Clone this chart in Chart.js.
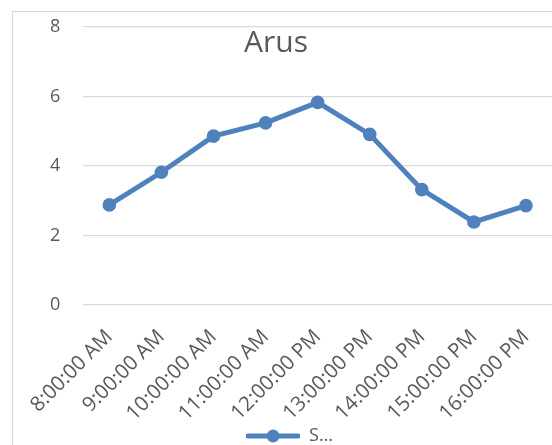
<!DOCTYPE html>
<html>
<head>
<meta charset="utf-8">
<script src="https://cdn.jsdelivr.net/npm/chart.js@4/dist/chart.umd.min.js"></script>
<style>
  html, body { margin: 0; padding: 0; background: #fff; overflow: hidden; }
  #frame { position: absolute; left: 12px; top: 11px; width: 600px; height: 500px; border: 1px solid #d9d9d9; }
  #wrap { position: absolute; left: 0; top: 0; width: 552px; height: 445px; }
  canvas { display: block; }
</style>
</head>
<body>
<div id="frame"></div>
<div id="wrap"><canvas id="line_chart" width="552" height="445"></canvas></div>
<script>
const chartTitle = "Arus";
const seriesName = "S…";
const hours = [
  "8:00:00 AM", "9:00:00 AM", "10:00:00 AM", "11:00:00 AM", "12:00:00 PM",
  "13:00:00 PM", "14:00:00 PM", "15:00:00 PM", "16:00:00 PM"
];
const arus = [2.88, 3.82, 4.86, 5.24, 5.83, 4.91, 3.32, 2.39, 2.86];
const yTicks = [0, 2, 4, 6, 8];

const blue = "#4f81bd";
const grey = "#595959";
const font = "'Open Sans', sans-serif";

// marker used in the legend: a short line with a dot in the middle
const legendMark = document.createElement("canvas");
legendMark.width = 54;
legendMark.height = 14;
const lm = legendMark.getContext("2d");
lm.strokeStyle = blue;
lm.lineWidth = 5;
lm.lineCap = "round";
lm.beginPath();
lm.moveTo(2, 7);
lm.lineTo(52, 7);
lm.stroke();
lm.fillStyle = blue;
lm.beginPath();
lm.arc(27, 7, 6.5, 0, Math.PI * 2);
lm.fill();

// title sits inside the plot area, like the spreadsheet chart
const titleInPlot = {
  id: "titleInPlot",
  afterDraw(chart) {
    const ctx = chart.ctx;
    ctx.save();
    ctx.fillStyle = grey;
    ctx.font = "30px " + font;
    ctx.textAlign = "center";
    ctx.textBaseline = "middle";
    ctx.fillText(chartTitle, chart.width / 2, chart.chartArea.top + 16);
    ctx.restore();
  }
};

const ctx = document.getElementById("line_chart").getContext("2d");
let chart = new Chart(ctx, {
  type: "line",
  data: {
    labels: hours,
    datasets: [
      {
        label: seriesName,
        data: arus,
        borderColor: blue,
        backgroundColor: blue,
        borderWidth: 5,
        pointRadius: 6.8,
        pointHoverRadius: 6.8,
        pointBorderWidth: 0,
        tension: 0,
      },
    ],
  },
  options: {
    responsive: false,
    animation: false,
    layout: {
      autoPadding: false,
      padding: { left: 27, right: 0, top: 27, bottom: -10 },
    },
    scales: {
      x: {
        offset: true,
        grid: { display: false },
        border: { display: false },
        afterFit: (scale) => {
          scale.paddingLeft = 0;
          scale.paddingRight = 0;
          scale.height = 118;
        },
        ticks: {
          color: grey,
          font: { family: font, size: 20.5 },
          maxRotation: 45,
          minRotation: 45,
          autoSkip: false,
          padding: 12,
        },
      },
      y: {
        min: 0,
        max: 8,
        afterBuildTicks: (axis) => {
          axis.ticks = yTicks.map((v) => ({ value: v }));
        },
        afterFit: (scale) => {
          scale.paddingTop = 0;
          scale.paddingBottom = 0;
        },
        grid: { color: "#d9d9d9", lineWidth: 1.3, drawTicks: false },
        border: { display: false },
        ticks: {
          color: grey,
          font: { family: font, size: 18 },
          padding: 23,
        },
      },
    },
    plugins: {
      legend: {
        position: "bottom",
        labels: {
          color: grey,
          font: { family: font, size: 18 },
          usePointStyle: true,
          pointStyleWidth: 54,
          padding: 4,
          generateLabels: (c) =>
            c.data.datasets.map((ds, i) => ({
              text: ds.label,
              fontColor: grey,
              pointStyle: legendMark,
              datasetIndex: i,
              lineWidth: 0,
            })),
        },
      },
      tooltip: { enabled: false },
    },
  },
  plugins: [titleInPlot],
});
</script>
</body>
</html>
